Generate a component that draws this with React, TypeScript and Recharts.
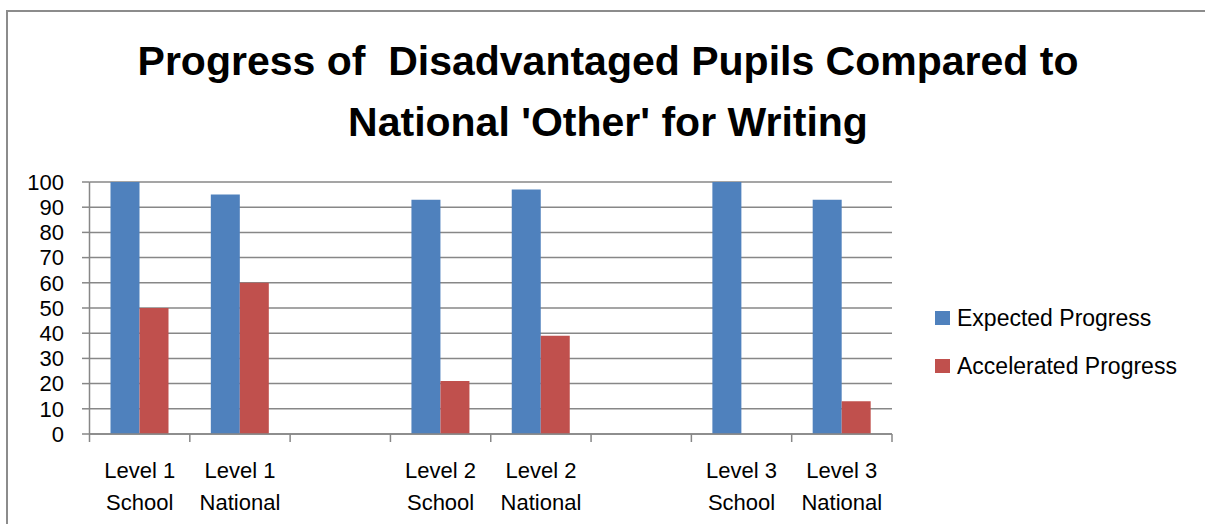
import React from 'react';
import { BarChart, Bar, XAxis, YAxis, CartesianGrid, Legend } from 'recharts';

const categories = [
  'Level 1|School',
  'Level 1|National',
  '',
  'Level 2|School',
  'Level 2|National',
  '',
  'Level 3|School',
  'Level 3|National',
];
const expectedProgress = [100, 95, null, 93, 97, null, 100, 93];
const acceleratedProgress = [50, 60, null, 21, 39, null, 0, 13];
const yTicks = [0, 10, 20, 30, 40, 50, 60, 70, 80, 90, 100];
const boundaryTicks = [-0.5, 0.5, 1.5, 2.5, 3.5, 4.5, 5.5, 6.5, 7.5];
const seriesNames = ['Expected Progress', 'Accelerated Progress'];
const seriesColors = ['#4F81BD', '#C0504D'];
const titleLines = ['Progress of  Disadvantaged Pupils Compared to', "National 'Other' for Writing"];

const data = categories.map((label, i) => ({
  key: i,
  label,
  expected: expectedProgress[i],
  accelerated: acceleratedProgress[i],
}));

const FONT = '"Liberation Sans", Arial, sans-serif';
const GRID = '#878787';

const CatTick = (props: any) => {
  const { x, y, payload } = props;
  const label = categories[payload.value] ?? '';
  if (!label) return <g />;
  const [a, b] = label.split('|');
  return (
    <text textAnchor="middle" fontSize={22} fontFamily={FONT} fill="#000">
      <tspan x={x} y={y + 36}>{a}</tspan>
      <tspan x={x} y={y + 68}>{b}</tspan>
    </text>
  );
};

const LegendContent = () => (
  <div style={{ fontFamily: FONT, fontSize: 23, color: '#000' }}>
    {seriesNames.map((n, i) => (
      <div key={n} style={{ height: 48, display: 'flex', alignItems: 'center', whiteSpace: 'nowrap' }}>
        <span style={{ display: 'inline-block', width: 15, height: 14, background: seriesColors[i], marginRight: 7 }} />
        <span>{n}</span>
      </div>
    ))}
  </div>
);

export default function App() {
  return (
    <div style={{ position: 'fixed', left: 0, top: 0, width: 1205, height: 524, background: '#fff', overflow: 'hidden' }}>
      <div
        style={{
          position: 'absolute',
          left: 6,
          top: 10,
          width: 1205,
          height: 520,
          borderTop: '2px solid #8c8c8c',
          borderLeft: '2px solid #8c8c8c',
          boxSizing: 'border-box',
        }}
      />
      <svg width={1205} height={170} style={{ position: 'absolute', left: 0, top: 0 }}>
        <text x={608} y={75} textAnchor="middle" fontFamily={FONT} fontWeight="bold" fontSize={41} fill="#000" style={{ whiteSpace: 'pre' }}>
          {titleLines[0]}
        </text>
        <text x={608} y={136} textAnchor="middle" fontFamily={FONT} fontWeight="bold" fontSize={41} fill="#000" style={{ whiteSpace: 'pre' }}>
          {titleLines[1]}
        </text>
      </svg>
      <div style={{ position: 'absolute', left: 0, top: 0 }}>
        <BarChart
          width={1205}
          height={524}
          data={data}
          margin={{ top: 182, right: 313, bottom: 0, left: 0 }}
          barGap={0}
          barSize={29}
        >
          <CartesianGrid xAxisId="cat" vertical={false} stroke={GRID} strokeWidth={1.5} />
          <XAxis
            xAxisId="bounds"
            dataKey="key"
            type="number"
            scale="linear"
            domain={[-0.5, 7.5]}
            ticks={boundaryTicks}
            allowDataOverflow
            height={8}
            tickSize={8}
            tickFormatter={() => ''}
            axisLine={{ stroke: GRID, strokeWidth: 1.5 }}
            tickLine={{ stroke: GRID, strokeWidth: 1.5 }}
          />
          <XAxis
            xAxisId="cat"
            dataKey="key"
            type="category"
            height={82}
            axisLine={false}
            tickLine={false}
            tickSize={0}
            tickMargin={0}
            interval={0}
            tick={<CatTick />}
          />
          <YAxis
            domain={[0, 100]}
            ticks={yTicks}
            width={89.5}
            interval={0}
            tickSize={7.5}
            tickMargin={18}
            axisLine={{ stroke: GRID, strokeWidth: 1.5 }}
            tickLine={{ stroke: GRID, strokeWidth: 1.5 }}
            tick={{ fontSize: 22, fontFamily: FONT, fill: '#000' }}
          />
          <Legend
            layout="vertical"
            align="center"
            verticalAlign="middle"
            wrapperStyle={{ left: 935, top: 294, width: 270 }}
            content={<LegendContent />}
          />
          <Bar xAxisId="cat" dataKey="expected" name={seriesNames[0]} fill={seriesColors[0]} isAnimationActive={false} />
          <Bar xAxisId="cat" dataKey="accelerated" name={seriesNames[1]} fill={seriesColors[1]} isAnimationActive={false} />
        </BarChart>
      </div>
    </div>
  );
}
